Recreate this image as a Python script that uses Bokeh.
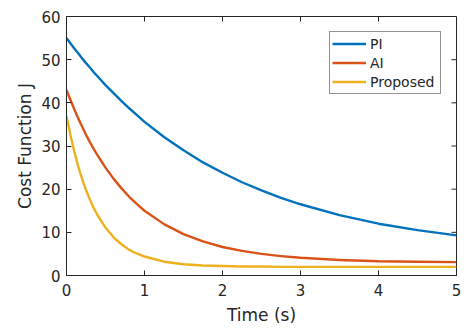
from bokeh.plotting import figure
from bokeh.models import FixedTicker, Legend, LegendItem, Range1d
from bokeh.embed import file_html
from bokeh.resources import INLINE

# ---- data ----
time_s = [0.0, 0.05, 0.1, 0.15, 0.2, 0.25, 0.3, 0.35, 0.4, 0.5, 0.6, 0.7, 0.8,
          0.9, 1.0, 1.25, 1.5, 1.75, 2.0, 2.25, 2.5, 2.75, 3.0, 3.5, 4.0, 4.5, 5.0]
pi_cost = [55.0, 53.8, 52.6, 51.5, 50.3, 49.2, 48.2, 47.1, 46.1, 44.1, 42.3,
           40.5, 38.8, 37.2, 35.6, 32.1, 29.0, 26.2, 23.8, 21.6, 19.7, 18.0,
           16.5, 14.0, 12.0, 10.5, 9.3]
ai_cost = [43.0, 40.7, 38.5, 36.4, 34.5, 32.6, 30.9, 29.3, 27.8, 25.0, 22.5,
           20.3, 18.3, 16.6, 15.0, 11.9, 9.6, 7.9, 6.6, 5.7, 5.0, 4.5, 4.1,
           3.6, 3.3, 3.2, 3.1]
proposed_cost = [37.0, 32.6, 28.7, 25.3, 22.4, 19.8, 17.6, 15.6, 13.9, 11.1,
                 8.9, 7.3, 6.0, 5.1, 4.4, 3.2, 2.6, 2.3, 2.2, 2.1, 2.1, 2.0,
                 2.0, 2.0, 2.0, 2.0, 2.0]

series_names = ["PI", "AI", "Proposed"]
series_colors = ["#0072BD", "#D95319", "#EDB120"]
x_ticks = [0, 1, 2, 3, 4, 5]
y_ticks = [0, 10, 20, 30, 40, 50, 60]
x_label = "Time (s)"
y_label = "Cost Function J"

FONT = "DejaVu Sans"
TXT = "#262626"

p = figure(width=464, height=327, output_backend="svg", toolbar_location=None,
           x_range=Range1d(x_ticks[0], x_ticks[-1]),
           y_range=Range1d(y_ticks[0], y_ticks[-1]),
           min_border_left=66, min_border_right=8, min_border_top=16,
           min_border_bottom=52)
p.xgrid.visible = False
p.ygrid.visible = False
p.outline_line_color = TXT
p.outline_line_width = 1
p.background_fill_color = "white"
p.border_fill_color = "white"

renderers = []
for ys, c in zip([pi_cost, ai_cost, proposed_cost], series_colors):
    r = p.line(time_s, ys, line_color=c, line_width=2.4, line_join="round")
    renderers.append(r)

# inward ticks on the top and right edges of the box
p.ray(x=x_ticks, y=[y_ticks[-1]] * len(x_ticks), length=5, length_units="screen",
      angle=-90, angle_units="deg", line_color=TXT, line_width=1)
p.ray(x=[x_ticks[-1]] * len(y_ticks), y=y_ticks, length=5, length_units="screen",
      angle=180, angle_units="deg", line_color=TXT, line_width=1)


def style_axis(ax, ticks):
    ax.ticker = FixedTicker(ticks=ticks)
    ax.axis_line_color = TXT
    ax.major_tick_line_color = TXT
    ax.major_tick_in = 5
    ax.major_tick_out = 0
    ax.minor_tick_line_color = None
    ax.major_label_text_font = FONT
    ax.major_label_text_font_size = "15px"
    ax.major_label_text_color = TXT
    ax.axis_label_text_font = FONT
    ax.axis_label_text_font_size = "17px"
    ax.axis_label_text_font_style = "normal"
    ax.axis_label_text_color = TXT


xa = p.xaxis[0]
style_axis(xa, x_ticks)
xa.axis_label = x_label
xa.major_label_standoff = 8
xa.axis_label_standoff = 6

ya = p.yaxis[0]
style_axis(ya, y_ticks)
ya.axis_label = y_label
ya.major_label_standoff = 6
ya.axis_label_standoff = 3

legend = Legend(
    items=[LegendItem(label=n, renderers=[r]) for n, r in zip(series_names, renderers)],
    location="top_right", margin=15, padding=2, spacing=0,
    glyph_width=34, glyph_height=19, label_height=19, label_width=68,
    label_standoff=4, label_text_font=FONT, label_text_font_size="14px",
    label_text_color=TXT, border_line_color=TXT, border_line_width=1,
    background_fill_color="white", background_fill_alpha=1.0,
)
p.add_layout(legend)

open("out.html", "w").write(file_html(p, INLINE))
